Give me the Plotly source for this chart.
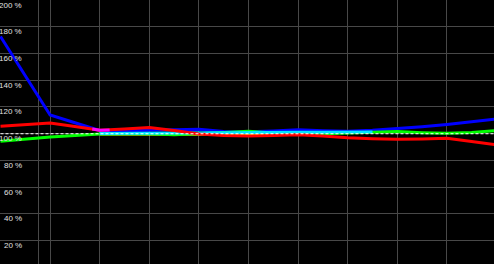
import plotly.graph_objects as go

# period index (one unit per vertical grid interval)
x_full = [0, 0.5, 1, 1.5, 2, 2.5, 3, 3.5, 4, 4.5, 5, 5.5, 6, 6.5, 7, 7.5, 8, 8.5, 9, 9.5, 10]
x_yellow = [2, 2.5, 3, 3.5, 4, 4.5, 5, 5.5, 6, 6.3]
x_cyan = [2, 2.5, 3, 3.5, 4, 4.5, 5, 5.5, 6, 6.5, 7, 7.5]
x_mag = [1.85, 2, 2.2]

blue = [172.7, 143.4, 114.0, 108.2, 102.4, 102.3, 102.6, 103.2, 103.4, 101.7, 101.4,
        102.0, 103.0, 102.3, 101.8, 102.6, 103.7, 105.2, 106.9, 108.8, 111.0]
red = [105.6, 106.9, 108.0, 105.4, 102.7, 103.6, 104.7, 102.4, 99.8, 98.6, 98.3,
       98.6, 99.2, 98.4, 97.0, 96.3, 95.9, 96.1, 96.6, 94.2, 91.8]
green = [94.4, 96.1, 97.6, 98.7, 99.8, 99.9, 99.9, 99.2, 99.9, 101.0, 101.9,
         100.6, 100.0, 99.9, 100.5, 101.0, 101.6, 100.8, 100.4, 101.0, 102.3]
cyan = [100.1, 100.3, 100.4, 100.7, 100.9, 100.9, 100.8, 101.0, 101.2, 101.2, 101.3, 101.3]
yellow = [99.8, 99.8, 99.8, 99.5, 99.3, 99.4, 99.5, 99.6, 99.7, 99.6]
magenta = [103.6, 102.6, 102.8]

y_ticks = [20, 40, 60, 80, 100, 120, 140, 160, 180, 200]
y_labels = [f"{v} %" for v in y_ticks]
x_grid = [0.76, 1, 2, 3, 4, 5, 6, 7, 8, 9]
baseline = 100

fig = go.Figure()
W = 3
fig.add_trace(go.Scatter(x=x_yellow, y=yellow, mode="lines", line=dict(color="#ffff00", width=W)))
fig.add_trace(go.Scatter(x=x_full, y=blue, mode="lines", line=dict(color="#0000ff", width=W)))
fig.add_trace(go.Scatter(x=x_full, y=green, mode="lines", line=dict(color="#00ff00", width=W)))
fig.add_trace(go.Scatter(x=x_cyan, y=cyan, mode="lines", line=dict(color="#00e5ff", width=W)))
fig.add_trace(go.Scatter(x=x_full, y=red, mode="lines", line=dict(color="#ff0000", width=W)))
fig.add_trace(go.Scatter(x=x_mag, y=magenta, mode="lines", line=dict(color="#ff00ff", width=W)))
fig.add_trace(go.Scatter(x=[x_full[0], x_full[-1]], y=[baseline, baseline], mode="lines",
                         line=dict(color="#ffffff", width=1, dash="3px,2px")))

grid = "#484848"
fig.update_layout(
    width=494, height=264,
    margin=dict(l=0, r=0, t=0, b=0),
    paper_bgcolor="#000000", plot_bgcolor="#000000",
    showlegend=False,
    xaxis=dict(range=[-0.01, 9.95], tickvals=x_grid, showticklabels=False,
               showgrid=True, gridcolor=grid, gridwidth=1, zeroline=False,
               showline=True, linecolor=grid, mirror=True),
    yaxis=dict(range=[2.6, 200], tickvals=y_ticks, showticklabels=False,
               showgrid=True, gridcolor=grid, gridwidth=1, zeroline=False,
               showline=True, linecolor=grid, mirror=True),
)
for v, t in zip(y_ticks, y_labels):
    fig.add_annotation(x=24 / 494, xref="paper", xanchor="right", y=v, yref="y",
                       yanchor="middle", yshift=-5, text=t, showarrow=False,
                       font=dict(family="Liberation Sans, Arial", size=8, color="#e0e0e0"))

fig.write_html("out.html")
